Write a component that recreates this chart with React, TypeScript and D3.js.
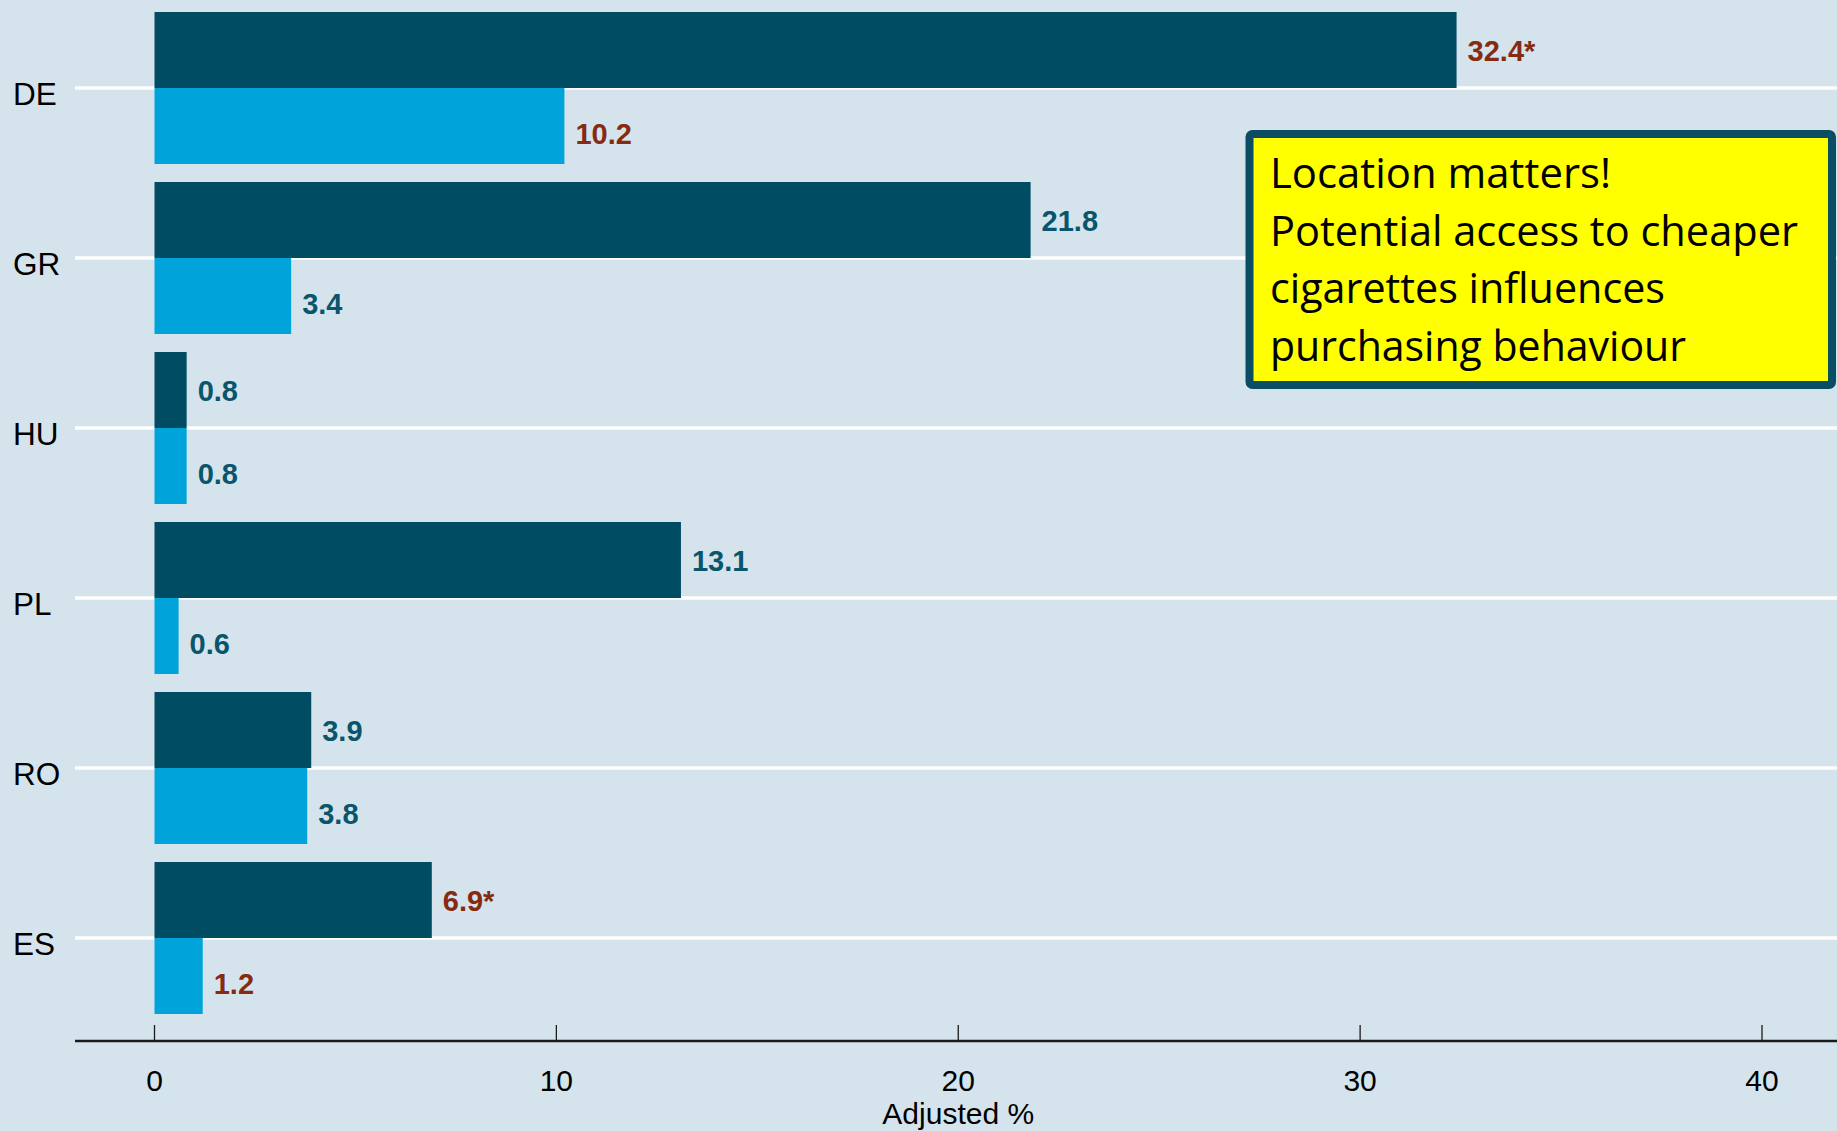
import React from "react";
import * as d3 from "d3";

const categories = ["DE", "GR", "HU", "PL", "RO", "ES"];
const darkValues = [32.4, 21.8, 0.8, 13.1, 3.9, 6.9];
const lightValues = [10.2, 3.4, 0.8, 0.6, 3.8, 1.2];
const darkLabels = ["32.4*", "21.8", "0.8", "13.1", "3.9", "6.9*"];
const lightLabels = ["10.2", "3.4", "0.8", "0.6", "3.8", "1.2"];
const darkSignificant = [true, false, false, false, false, true];
const lightSignificant = [true, false, false, false, false, true];
const xTicks = [0, 10, 20, 30, 40];
const xTitle = "Adjusted %";
const noteLines = [
  "Location matters!",
  "Potential access to cheaper",
  "cigarettes influences",
  "purchasing behaviour",
];
const noteWidths = [341, 528, 395, 416];

const W = 1837;
const H = 1131;
const BG = "#d5e4ec";
const DARK = "#004c63";
const LIGHT = "#00a3da";
const TEAL_TXT = "#09566c";
const RED_TXT = "#862a12";
const FONT = "'Liberation Sans', Arial, Helvetica, sans-serif";

export default function App() {
  const x = d3.scaleLinear().domain([0, 40]).range([154.5, 1762]);
  const y = d3
    .scaleBand<string>()
    .domain(categories)
    .range([3, 1023])
    .paddingInner(0.106)
    .paddingOuter(0.053);
  const bw = y.bandwidth();
  const center = (c: string) => (y(c) as number) + bw / 2;
  const axisY = 1041;

  return (
    <svg
      width={W}
      height={H}
      style={{ position: "absolute", left: 0, top: 0, display: "block" }}
      fontFamily={FONT}
    >
      <rect x={0} y={0} width={W} height={H} fill={BG} />
      {categories.map((c) => (
        <line
          key={"g" + c}
          x1={75}
          x2={W}
          y1={center(c)}
          y2={center(c)}
          stroke="#ffffff"
          strokeWidth={3.5}
        />
      ))}
      {categories.map((c, i) => (
        <g key={"b" + c}>
          <rect
            x={x(0)}
            y={y(c) as number}
            width={x(darkValues[i]) - x(0)}
            height={bw / 2}
            fill={DARK}
          />
          <rect
            x={x(0)}
            y={center(c)}
            width={x(lightValues[i]) - x(0)}
            height={bw / 2}
            fill={LIGHT}
          />
          <text
            x={x(darkValues[i]) + 11}
            y={(y(c) as number) + bw / 4 + 11}
            fontSize={29}
            fontWeight="bold"
            fill={darkSignificant[i] ? RED_TXT : TEAL_TXT}
          >
            {darkLabels[i]}
          </text>
          <text
            x={x(lightValues[i]) + 11}
            y={center(c) + bw / 4 + 18}
            fontSize={29}
            fontWeight="bold"
            fill={lightSignificant[i] ? RED_TXT : TEAL_TXT}
          >
            {lightLabels[i]}
          </text>
          <text x={13} y={center(c) + 17} fontSize={31.5} fill="#000">
            {c}
          </text>
        </g>
      ))}
      <line x1={75} x2={W} y1={axisY} y2={axisY} stroke="#1a1a1a" strokeWidth={2.5} />
      {xTicks.map((t) => (
        <g key={"t" + t}>
          <line x1={x(t)} x2={x(t)} y1={1025} y2={axisY} stroke="#1a1a1a" strokeWidth={1.3} />
          <text x={x(t)} y={1091} fontSize={30} textAnchor="middle" fill="#000">
            {t}
          </text>
        </g>
      ))}
      <text x={x(20)} y={1124} fontSize={30} textAnchor="middle" fill="#000">
        {xTitle}
      </text>
      <rect
        x={1249.5}
        y={134}
        width={582.5}
        height={251}
        rx={3}
        fill="#ffff00"
        stroke="#0b4d63"
        strokeWidth={8}
      />
      {noteLines.map((l, i) => (
        <text
          key={"n" + i}
          x={1270}
          y={188 + i * 57.5}
          fontSize={42}
          fontFamily="'Open Sans', 'Noto Sans', sans-serif"
          fill="#000"
          textLength={noteWidths[i]}
          lengthAdjust="spacingAndGlyphs"
        >
          {l}
        </text>
      ))}
    </svg>
  );
}
